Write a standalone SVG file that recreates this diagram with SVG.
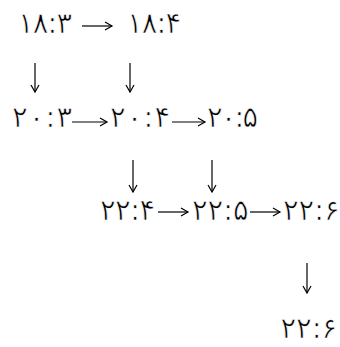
<svg xmlns="http://www.w3.org/2000/svg" width="340" height="347" viewBox="0 0 340 347">
<style>
.t{font-family:"DejaVu Sans","Liberation Serif",serif;font-size:29px;fill:#000;stroke:#fff;stroke-width:0.7}
.c{stroke:#000;stroke-width:1.2;fill:none}
</style>
<defs>
<marker id="ah" viewBox="0 0 10 10" refX="8.5" refY="5" markerWidth="10" markerHeight="10" markerUnits="userSpaceOnUse" orient="auto">
<path d="M1.5,1 L8.5,5 L1.5,9" fill="none" stroke="#000" stroke-width="1.2"/>
</marker>
</defs>
<rect width="340" height="347" fill="#fff"/>
<g id="connectors">
<path class="c" d="M82,26 H112" marker-end="url(#ah)"/>
<path class="c" d="M35,63 V92" marker-end="url(#ah)"/>
<path class="c" d="M130,63 V92" marker-end="url(#ah)"/>
<path class="c" d="M72,122 H107" marker-end="url(#ah)"/>
<path class="c" d="M172,122 H205" marker-end="url(#ah)"/>
<path class="c" d="M133,160 V192" marker-end="url(#ah)"/>
<path class="c" d="M212,160 V192" marker-end="url(#ah)"/>
<path class="c" d="M158,212 H188" marker-end="url(#ah)"/>
<path class="c" d="M250,212 H280" marker-end="url(#ah)"/>
<path class="c" d="M307,263 V293" marker-end="url(#ah)"/>
</g>
<g id="n1"><text class="t" x="18" y="33" textLength="54" lengthAdjust="spacing">۱۸:۳</text></g>
<g id="n2"><text class="t" x="127" y="33" textLength="54" lengthAdjust="spacing">۱۸:۴</text></g>
<g id="n3"><text class="t" x="12" y="127" textLength="60" lengthAdjust="spacing">۲۰:۳</text></g>
<g id="n4"><text class="t" x="110" y="127" textLength="60" lengthAdjust="spacing">۲۰:۴</text></g>
<g id="n5"><text class="t" x="207" y="127" textLength="51" lengthAdjust="spacing">۲۰:۵</text></g>
<g id="n6"><text class="t" x="100" y="220" textLength="55" lengthAdjust="spacing">۲۲:۴</text></g>
<g id="n7"><text class="t" x="192" y="220">۲۲:۵</text></g>
<g id="n8"><text class="t" x="283" y="220">۲۲:۶</text></g>
<g id="n9"><text class="t" x="337" y="338" text-anchor="end">۲۲:۶</text></g>
</svg>
